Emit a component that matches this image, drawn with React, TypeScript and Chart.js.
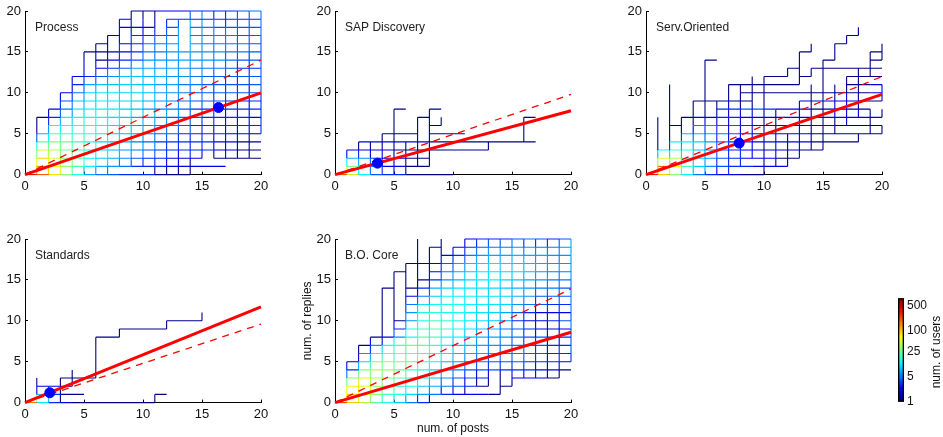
import React, { useEffect, useRef } from "react";
import { Chart, registerables } from "chart.js";

Chart.register(...registerables);

type Run = [number, number, number[]];

const FONT = "'Liberation Sans', Arial, sans-serif";
const MAX_USERS = 830;
const colorbarTicks = [1, 5, 25, 100, 500];
const axisTicks = [0, 5, 10, 15, 20];

// [row y, first x, users per unit edge]
const processH: Run[] = [
  [0, 0, [320, 180, 70, 30, 14, 7, 5, 4, 3, 3, 3, 1, 1, 1]],
  [1, 1, [140, 60, 35, 20, 12, 8, 6, 5, 3, 3, 3, 2, 2, 2, 2, 2]],
  [2, 1, [90, 50, 30, 22, 12, 9, 7, 6, 4, 3, 3, 2, 2, 2]],
  [2, 16, [1, 1, 1, 1]],
  [3, 1, [50, 40, 28, 20, 13, 10, 8, 6, 5, 4, 3, 3, 3, 3, 3, 2, 2, 1, 1]],
  [4, 1, [22, 30, 24, 18, 14, 10, 8, 7, 5, 4, 3, 3, 3, 3, 3, 2, 2, 1, 1]],
  [5, 1, [8, 22, 20, 18, 14, 11, 9, 8, 6, 5, 4, 4, 3, 3, 3, 3, 2, 2, 1]],
  [6, 2, [14, 16, 16, 14, 12, 10, 8, 6, 6, 5, 5, 4, 3, 3, 3, 3, 3, 3]],
  [7, 1, [1, 3, 12, 14, 13, 12, 10, 9, 7, 6, 5, 4, 4, 4, 3, 3, 3, 3, 2]],
  [8, 2, [2, 5, 12, 13, 12, 11, 9, 8, 6, 5, 5, 4, 3, 3, 3, 3, 3, 3]],
  [9, 3, [4, 9, 11, 12, 11, 10, 9, 7, 6, 5, 5, 4, 4, 4, 3, 3, 3]],
  [10, 3, [2, 5, 10, 11, 11, 10, 9, 8, 6, 6, 5, 4, 4, 4, 4, 4, 4]],
  [11, 4, [3, 7, 9, 9, 10, 9, 8, 7, 7, 5, 5, 4, 4, 4, 4, 4]],
  [12, 4, [2, 3, 4, 6, 9, 9, 8, 8, 6, 6, 5, 4, 4, 4, 4, 4]],
  [13, 6, [2, 3, 4, 7, 7, 7, 7, 6, 5, 5, 5, 4, 3, 3]],
  [14, 6, [1, 2, 3, 4, 6, 6, 6, 7, 6, 6, 6, 5, 4, 4]],
  [15, 5, [1, 1, 1, 2, 3, 5, 5, 6, 6, 6, 6, 6, 5, 5, 4]],
  [16, 6, [1]],
  [16, 8, [2, 3, 5, 5, 6]],
  [16, 14, [6, 5, 5, 5, 5, 4]],
  [17, 7, [1]],
  [17, 9, [3, 3, 4, 4]],
  [17, 14, [5, 5, 5, 5, 4, 4]],
  [18, 8, [2, 2, 2]],
  [18, 12, [4]],
  [18, 14, [5, 5, 4, 4, 4, 4]],
  [19, 8, [2]],
  [19, 12, [3, 3, 3, 3, 3, 3, 3, 3]],
  [20, 9, [1, 1, 2, 2, 2, 3, 3, 3, 3, 4, 5]],
];
const processV: Run[] = [
  [1, 0, [120, 60, 30, 15, 4, 1, 1]],
  [2, 0, [100, 60, 40, 25, 12, 6, 3, 2]],
  [3, 0, [60, 35, 30, 25, 20, 12, 8, 4, 3, 2]],
  [4, 0, [25, 30, 28, 25, 20, 14, 10, 6, 5, 3, 2, 2]],
  [5, 0, [8, 18, 22, 22, 20, 16, 14, 10, 8, 6, 4, 3, 2, 2, 1]],
  [6, 0, [6, 12, 12, 16, 16, 14, 14, 12, 10, 9, 7, 4, 3, 2, 2, 1]],
  [7, 0, [5, 10, 12, 14, 14, 13, 13, 12, 11, 10, 8, 6, 5, 3, 2, 1, 1]],
  [8, 1, [5, 8, 10, 10, 10, 12, 12, 11, 10, 9, 9, 7, 4, 3, 3, 2, 2, 2]],
  [9, 1, [4, 6, 8, 8, 9, 10, 11, 10, 10, 9, 8, 7, 5, 4, 3, 3, 2, 2, 1]],
  [10, 1, [3, 5, 6, 6, 7, 8, 9, 9, 9, 9, 8, 7, 6, 5, 4, 3, 2, 2, 1]],
  [11, 0, [1, 3, 4, 5, 5, 6, 7, 8, 8, 8, 8, 8, 7, 6, 5, 5, 4, 3, 1, 1]],
  [12, 0, [1, 2, 3, 3, 4, 5, 6, 7, 7, 7, 7, 7, 7, 6, 6, 6, 5, 4, 3]],
  [13, 0, [1, 2, 2, 3, 3, 4, 5, 6, 6, 6, 6, 6, 6, 6, 7, 7, 7, 7, 4]],
  [14, 0, [1, 1, 3, 3, 3, 4, 4, 4, 5, 5, 5, 6, 6, 6, 6, 8, 8, 8, 8, 4]],
  [15, 2, [2, 3, 3, 3, 3, 4, 4, 5, 5, 5, 6, 6, 6, 6, 6, 6, 6, 6]],
  [16, 2, [1, 2, 2, 2, 3, 3, 3, 3, 3, 4, 4, 5, 5, 5, 5, 5, 5, 3]],
  [17, 2, [2, 2, 2, 2, 2, 2, 3, 3, 3, 3, 4, 4, 4, 5, 5, 5, 3, 3]],
  [18, 2, [1, 1, 2, 2, 2, 2, 3, 3, 3, 3, 3, 3, 4, 4, 4, 4, 4, 4]],
  [19, 2, [1, 1, 1, 2, 2, 2, 2, 2, 2, 3, 3, 3, 3, 4, 4, 4, 4, 4]],
  [20, 5, [3, 3, 3, 3, 3, 4, 4, 4, 4, 4, 4, 4, 5, 5, 5]],
];

const sapH: Run[] = [
  [0, 0, [180, 50, 12, 4, 3, 3, 1, 1, 1, 1]],
  [1, 1, [30, 10, 6, 2, 2, 1, 1]],
  [2, 1, [8, 6, 3, 2, 2, 1, 1]],
  [3, 1, [2, 2, 2, 2, 1, 1, 1, 1, 1, 1, 1, 1]],
  [4, 2, [2, 2, 2, 2, 2, 2, 1, 1, 1, 1, 1, 1, 1, 1, 1]],
  [5, 4, [1, 1, 1]],
  [5, 8, [1, 1, 1]],
  [6, 8, [1]],
  [7, 7, [1]],
  [7, 16, [1]],
  [8, 5, [1]],
  [8, 8, [1]],
];
const sapV: Run[] = [
  [1, 0, [60, 12, 2]],
  [2, 0, [14, 8, 3, 1]],
  [3, 0, [5, 4, 2, 1]],
  [4, 0, [3, 2, 2, 1, 1]],
  [5, 0, [2, 2, 1, 1, 1, 1, 1, 1]],
  [6, 0, [1, 1, 1, 1]],
  [7, 1, [1, 1, 1, 1, 1, 1]],
  [8, 1, [1, 1, 1, 1, 1, 1, 1]],
  [9, 6, [1]],
  [13, 3, [1]],
  [16, 4, [1, 1, 1]],
];

const servH: Run[] = [
  [0, 0, [300, 90, 30, 12, 5, 3, 2, 2, 1, 1]],
  [1, 1, [200, 60, 18, 10, 6, 4, 3, 3, 2, 2, 2]],
  [2, 1, [60, 40, 16, 10, 6, 4, 3, 2, 2, 2, 1, 1]],
  [3, 1, [14, 20, 16, 9, 6, 4, 3, 2, 2, 2, 2, 2, 1, 1]],
  [4, 2, [12, 12, 10, 7, 5, 3, 3, 2, 2, 2, 2, 2, 1, 1, 1, 1]],
  [5, 3, [8, 8, 7, 5, 4, 3, 2, 2, 2, 2, 2, 1, 1, 1, 1, 1, 1]],
  [6, 2, [1]],
  [6, 4, [5, 6, 4, 4, 3, 2, 2, 2, 2, 2, 2, 2, 1, 1, 1, 1]],
  [7, 3, [1, 2, 2, 3, 3, 2, 2, 2, 2, 2, 2, 2, 2, 2, 2, 2, 2]],
  [8, 6, [3, 3, 4, 4, 3, 2, 2, 2, 1, 1, 1, 1, 1]],
  [9, 4, [1, 1, 1, 1, 1]],
  [9, 13, [2, 2, 2, 2, 2, 1, 1]],
  [10, 8, [1, 1, 1, 1, 1, 1, 1, 1, 1, 1, 1, 2]],
  [11, 7, [1, 1, 1, 1, 1, 1]],
  [11, 17, [1, 1, 2]],
  [12, 10, [1, 1]],
  [12, 13, [1]],
  [12, 17, [1, 1, 1]],
  [13, 12, [1]],
  [13, 14, [1, 1, 1, 1, 1, 1]],
  [14, 5, [1]],
  [14, 15, [1]],
  [14, 19, [1]],
  [15, 13, [1]],
  [15, 19, [1]],
  [16, 16, [1]],
  [17, 17, [1]],
];
const servV: Run[] = [
  [1, 0, [110, 30, 8, 1, 1, 1, 1]],
  [2, 0, [40, 25, 10, 3, 1, 1, 1, 1, 1, 1, 1]],
  [3, 0, [20, 14, 10, 6, 3, 1, 1]],
  [4, 0, [8, 9, 9, 7, 4, 2, 1, 1, 1]],
  [5, 0, [6, 6, 6, 6, 4, 3, 2, 1, 1, 1, 1, 1, 1, 1]],
  [6, 0, [2, 3, 4, 4, 3, 3, 2, 1, 1]],
  [7, 0, [3, 3, 3, 3, 2, 2, 2, 2, 2, 1, 1]],
  [8, 1, [3, 3, 2, 2, 2, 2, 2, 1, 1, 1]],
  [9, 2, [2, 2, 2, 2, 2, 2, 1, 1, 1, 1]],
  [10, 0, [1, 1, 1, 1, 1, 1, 1, 1, 1, 1, 1, 1]],
  [11, 1, [1, 2, 2, 2, 1, 1, 1]],
  [12, 1, [1, 1, 1, 1]],
  [12, 12, [1]],
  [13, 2, [2, 2, 2, 2, 2, 2, 2]],
  [13, 11, [1, 1, 1, 1]],
  [14, 3, [1, 1, 1, 1, 1, 1, 1, 1]],
  [14, 12, [1]],
  [14, 15, [1]],
  [15, 3, [1, 1, 1, 1, 1, 1, 1, 1, 1, 1, 1]],
  [16, 5, [1, 1, 2, 2, 1, 1]],
  [16, 14, [1, 1]],
  [17, 6, [2, 2, 2, 2, 1, 1]],
  [17, 16, [1]],
  [18, 4, [1]],
  [18, 7, [2, 1, 1, 1, 1, 1]],
  [18, 17, [1]],
  [19, 5, [1, 1, 1]],
  [19, 12, [1, 1, 1]],
  [20, 5, [1]],
  [20, 7, [1]],
  [20, 9, [2, 2]],
  [20, 14, [1, 1]],
];

const standardsH: Run[] = [
  [0, 0, [150, 12, 3, 2, 1, 1, 1, 1, 1, 1, 1]],
  [1, 1, [10, 3, 1, 1]],
  [1, 11, [1]],
  [2, 1, [2, 2, 1]],
  [3, 3, [1, 1, 1]],
  [8, 6, [1, 1]],
  [9, 8, [1, 1, 1, 1]],
  [10, 12, [1, 1, 1]],
];
const standardsV: Run[] = [
  [1, 0, [30, 2, 1]],
  [2, 0, [8, 3]],
  [3, 0, [1, 1, 1]],
  [4, 2, [1, 1]],
  [6, 3, [1, 1, 1, 1, 1]],
  [8, 8, [1]],
  [11, 0, [1]],
  [12, 9, [1]],
  [15, 10, [1]],
];

const coreH: Run[] = [
  [0, 0, [220, 90, 45, 22, 14, 9, 5, 3]],
  [1, 1, [100, 60, 30, 18, 14, 10, 7, 5, 3, 2, 2, 2, 1]],
  [2, 1, [70, 60, 35, 24, 16, 14, 9, 7, 5, 4, 3, 1]],
  [2, 14, [1]],
  [3, 1, [30, 55, 40, 30, 22, 16, 12, 8, 6, 4, 4, 3]],
  [3, 15, [2, 2, 2, 1]],
  [4, 1, [3, 30, 42, 35, 24, 18, 14, 10, 6, 5, 4, 4, 4, 3, 3, 3, 2, 2, 1]],
  [5, 1, [1, 10, 30, 35, 28, 22, 16, 12, 8, 6, 5, 5, 4, 4, 4, 3, 3, 3, 2]],
  [6, 2, [6, 16, 24, 28, 25, 18, 14, 11, 8, 7, 7, 6, 5, 5, 4, 4, 3, 3]],
  [7, 2, [1, 6, 14, 20, 24, 22, 18, 13, 9, 8, 7, 6, 6, 5, 4, 4, 3, 3]],
  [8, 3, [1, 2, 6, 14, 22, 20, 15, 13, 9, 8, 7, 6, 5, 4, 4, 3, 3]],
  [9, 5, [3, 14, 20, 22, 18, 14, 11, 9, 8, 5, 4, 3, 2, 2, 2]],
  [10, 5, [1, 6, 16, 20, 18, 15, 12, 11, 9, 6, 3, 2, 2, 3, 4]],
  [11, 6, [6, 14, 16, 15, 14, 12, 11, 10, 7, 4, 3, 2, 2, 2]],
  [12, 6, [5, 11, 13, 15, 14, 12, 12, 11, 10, 6, 5, 4, 3, 3]],
  [13, 6, [2, 5, 9, 12, 12, 12, 11, 11, 10, 8, 6, 4, 4, 4]],
  [14, 4, [1]],
  [14, 6, [1, 3, 8, 10, 11, 11, 11, 10, 9, 8, 6, 5, 5, 4]],
  [15, 7, [1, 3, 6, 8, 10, 11, 12, 10, 9, 7, 6, 5, 5]],
  [16, 5, [1]],
  [16, 8, [2, 5, 7, 9, 11, 11, 10, 10, 8, 6, 5, 5]],
  [17, 6, [1]],
  [17, 7, [1, 2, 4, 7, 9, 10, 11, 10, 9, 8, 7, 6, 6]],
  [18, 9, [2, 3, 5, 6, 7, 7, 8, 7, 7, 6, 6]],
  [19, 8, [1]],
  [19, 10, [2, 3, 4, 5, 5, 6, 6, 5, 5, 6]],
  [20, 11, [2, 3, 3, 3, 4, 5, 4, 3, 4]],
];
const coreV: Run[] = [
  [1, 0, [60, 60, 25, 5, 2]],
  [2, 0, [60, 70, 50, 25, 8, 2, 1]],
  [3, 0, [35, 50, 40, 30, 20, 8, 3, 2]],
  [4, 0, [18, 28, 35, 30, 28, 18, 10, 2, 1, 1, 1, 1, 1, 1]],
  [5, 0, [10, 20, 24, 30, 25, 20, 18, 14, 4, 2, 1, 1, 1, 1, 1, 1]],
  [6, 0, [6, 12, 18, 22, 25, 24, 20, 22, 14, 6, 5, 3, 2, 2, 1, 1, 1]],
  [7, 0, [3, 8, 12, 18, 22, 26, 24, 20, 20, 14, 12, 10, 4, 2, 1, 1, 1, 1, 1, 1]],
  [8, 0, [1, 5, 8, 12, 14, 16, 20, 16, 16, 14, 14, 11, 7, 4, 3, 2, 1, 1, 1]],
  [9, 1, [2, 4, 7, 9, 12, 12, 14, 14, 14, 14, 12, 10, 8, 6, 4, 3, 2, 1, 1]],
  [10, 1, [2, 3, 5, 6, 8, 9, 9, 11, 12, 12, 12, 12, 10, 8, 6, 4, 3, 2]],
  [11, 1, [1, 2, 3, 5, 6, 7, 8, 9, 10, 10, 11, 11, 11, 11, 9, 6, 4, 3, 2]],
  [12, 2, [1, 2, 4, 5, 6, 6, 7, 8, 10, 10, 10, 10, 11, 11, 9, 7, 5, 3]],
  [13, 2, [1, 2, 3, 4, 5, 5, 5, 7, 8, 9, 10, 10, 11, 11, 10, 8, 6, 4]],
  [14, 1, [1, 1, 1, 3, 4, 4, 5, 5, 5, 7, 8, 9, 9, 10, 10, 10, 8, 6, 4]],
  [15, 2, [1, 2, 3, 4, 4, 4, 4, 4, 4, 5, 6, 8, 8, 9, 9, 8, 7, 5]],
  [16, 3, [2, 3, 4, 4, 3, 3, 3, 3, 4, 5, 6, 7, 7, 8, 7, 5, 3]],
  [17, 3, [2, 2, 3, 3, 3, 2, 2, 1, 2, 3, 4, 5, 6, 7, 6, 5, 3]],
  [18, 3, [1, 1, 2, 2, 2, 2, 1, 2, 3, 3, 4, 5, 6, 6, 6, 5, 3]],
  [19, 3, [1, 2, 3, 3, 2, 2, 2, 2, 3, 4, 4, 5, 5, 6, 5, 5, 4]],
  [20, 5, [3, 4, 4, 4, 5, 4, 5, 5, 5, 5, 6, 6, 6, 7, 7]],
];

function jet(t: number): string {
  const c = (v: number) => Math.round(255 * Math.max(0, Math.min(1, v)));
  const r = 1.5 - Math.abs(4 * t - 3);
  const g = 1.5 - Math.abs(4 * t - 2);
  const b = 1.5 - Math.abs(4 * t - 1);
  return `rgb(${c(r)},${c(g)},${c(b)})`;
}

function level(users: number): number {
  return Math.min(63, Math.floor((Math.log(users) / Math.log(MAX_USERS)) * 64));
}

function meshDatasets(h: Run[], v: Run[]) {
  const byLevel = new Map<number, { x: number; y: number | null }[]>();
  const add = (users: number, x0: number, y0: number, x1: number, y1: number) => {
    const l = level(users);
    if (!byLevel.has(l)) byLevel.set(l, []);
    byLevel.get(l)!.push({ x: x0, y: y0 }, { x: x1, y: y1 }, { x: x1, y: null });
  };
  h.forEach(([y, x0, vals]) => vals.forEach((u, i) => add(u, x0 + i, y, x0 + i + 1, y)));
  v.forEach(([x, y0, vals]) => vals.forEach((u, i) => add(u, x, y0 + i, x, y0 + i + 1)));
  return [...byLevel.entries()].map(([l, data]) => ({
    data,
    showLine: true,
    spanGaps: false,
    borderColor: jet((l + 0.5) / 64),
    borderWidth: 1.1,
    pointRadius: 0,
    clip: false as const,
    order: 3,
  }));
}

interface PanelProps {
  name: string;
  h: Run[];
  v: Run[];
  solidEnd: number;
  dashedEnd: number;
  dot: [number, number] | null;
  left: number;
  top: number;
  labelled?: boolean;
}

function Panel({ name, h, v, solidEnd, dashedEnd, dot, left, top, labelled }: PanelProps) {
  const ref = useRef<HTMLCanvasElement>(null);
  const marginL = labelled ? 35 : 30;
  const marginB = labelled ? 33 : 20;
  const marginT = 15;
  const marginR = 16;
  const W = 236;
  const H = 163.6;
  const cw = Math.ceil(marginL + W + marginR);
  const ch = Math.ceil(marginT + H + marginB);
  useEffect(() => {
    const datasets: any[] = [
      ...meshDatasets(h, v),
      {
        data: [{ x: 0, y: 0 }, { x: 20, y: dashedEnd }],
        showLine: true,
        borderColor: "#ff0000",
        borderWidth: 1.3,
        borderDash: [7, 6],
        pointRadius: 0,
        clip: false,
        order: 2,
      },
      {
        data: [{ x: 0, y: 0 }, { x: 20, y: solidEnd }],
        showLine: true,
        borderColor: "#ff0000",
        borderWidth: 3,
        pointRadius: 0,
        clip: false,
        order: 1,
      },
    ];
    if (dot) {
      datasets.push({
        data: [{ x: dot[0], y: dot[1] }],
        showLine: false,
        backgroundColor: "#0000ff",
        borderColor: "#0000ff",
        pointRadius: 5,
        clip: false,
        order: 0,
      });
    }
    const axis = (title: string | null) => ({
      type: "linear" as const,
      min: 0,
      max: 20,
      afterBuildTicks: (s: any) => {
        s.ticks = axisTicks.map((value) => ({ value }));
      },
      grid: { drawOnChartArea: false, tickLength: -3, color: "#000", lineWidth: 1 },
      border: { color: "#000", width: 1 },
      ticks: { color: "#111", font: { family: FONT, size: 13 }, padding: 7, maxRotation: 0, autoSkip: false },
      title: title
        ? { display: true, text: title, color: "#111", font: { family: FONT, size: 12 }, padding: 0 }
        : { display: false },
    });
    const chart = new Chart(ref.current!, {
      type: "scatter",
      data: { datasets },
      options: {
        animation: false,
        responsive: false,
        layout: { padding: { left: 0, top: marginT, right: cw - marginL - W, bottom: 0 } },
        plugins: { legend: { display: false }, tooltip: { enabled: false } },
        scales: {
          x: { ...axis(labelled ? "num. of posts" : null), afterFit: (s: any) => { s.height = ch - marginT - H; } },
          y: { ...axis(labelled ? "num. of replies" : null), afterFit: (s: any) => { s.width = marginL; } },
        },
      } as any,
      plugins: [
        {
          id: "panelName",
          afterDraw(c: any) {
            const g = c.ctx;
            g.save();
            g.fillStyle = "#222";
            g.font = `12px ${FONT}`;
            g.textBaseline = "middle";
            g.fillText(name, c.scales.x.getPixelForValue(0.85), c.scales.y.getPixelForValue(18));
            g.restore();
          },
        },
      ],
    });
    return () => chart.destroy();
  }, []);
  return (
    <canvas
      ref={ref}
      width={cw}
      height={ch}
      style={{ position: "absolute", left: left - marginL, top: top - marginT, width: cw, height: ch, filter: "blur(0.35px)" }}
    />
  );
}

function ColorBar() {
  const ref = useRef<HTMLCanvasElement>(null);
  useEffect(() => {
    const levels = Array.from({ length: 64 }, (_, i) => i);
    const datasets: any[] = levels.map((i) => ({
      data: [[Math.pow(MAX_USERS, i / 64), Math.pow(MAX_USERS, (i + 1) / 64)]],
      backgroundColor: jet((i + 0.5) / 64),
      borderWidth: 0,
      order: 2,
    }));
    datasets.push({
      data: [[1, MAX_USERS]],
      backgroundColor: "rgba(0,0,0,0)",
      borderColor: "#000",
      borderWidth: 1,
      borderSkipped: false,
      order: 1,
    });
    const chart = new Chart(ref.current!, {
      type: "bar",
      data: { labels: ["num. of users"], datasets },
      options: {
        animation: false,
        responsive: false,
        layout: { padding: { left: 8, top: 8, bottom: 10, right: 0 } },
        plugins: { legend: { display: false }, tooltip: { enabled: false } },
        datasets: { bar: { barPercentage: 1, categoryPercentage: 1, grouped: false } },
        scales: {
          x: { display: false },
          y: {
            type: "logarithmic",
            position: "right",
            min: 1,
            max: MAX_USERS,
            afterBuildTicks: (s: any) => {
              s.ticks = colorbarTicks.map((value) => ({ value }));
            },
            afterFit: (s: any) => {
              s.width = 39;
            },
            grid: { drawOnChartArea: false, tickLength: 0 },
            border: { display: false },
            ticks: {
              color: "#111",
              font: { family: FONT, size: 12 },
              padding: 3,
              autoSkip: false,
              callback: (v: any) => String(v),
            },
          },
        },
      } as any,
      plugins: [
        {
          id: "barTitle",
          afterDraw(c: any) {
            const g = c.ctx;
            g.save();
            g.translate(47, 64);
            g.rotate(-Math.PI / 2);
            g.fillStyle = "#111";
            g.font = `12px ${FONT}`;
            g.textAlign = "center";
            g.textBaseline = "middle";
            g.fillText("num. of users", 0, 0);
            g.restore();
          },
        },
      ],
    });
    return () => chart.destroy();
  }, []);
  return (
    <canvas
      ref={ref}
      width={53}
      height={124}
      style={{ position: "absolute", left: 890, top: 288, width: 53, height: 124, filter: "blur(0.35px)" }}
    />
  );
}

export default function App() {
  return (
    <div style={{ position: "absolute", left: 0, top: 0, width: 943, height: 437, overflow: "hidden", background: "#fff" }}>
      <Panel name="Process" h={processH} v={processV} solidEnd={10} dashedEnd={14} dot={[16.4, 8.2]} left={24.5} top={10.5} />
      <Panel name="SAP Discovery" h={sapH} v={sapV} solidEnd={7.8} dashedEnd={9.8} dot={[3.6, 1.4]} left={335} top={10.5} />
      <Panel name="Serv.Oriented" h={servH} v={servV} solidEnd={9.8} dashedEnd={12} dot={[7.9, 3.85]} left={645.7} top={10.5} />
      <Panel name="Standards" h={standardsH} v={standardsV} solidEnd={11.7} dashedEnd={9.6} dot={[2.1, 1.2]} left={24.5} top={238.5} />
      <Panel name="B.O. Core" h={coreH} v={coreV} solidEnd={8.6} dashedEnd={13.9} dot={null} left={335} top={238.5} labelled />
      <ColorBar />
    </div>
  );
}
